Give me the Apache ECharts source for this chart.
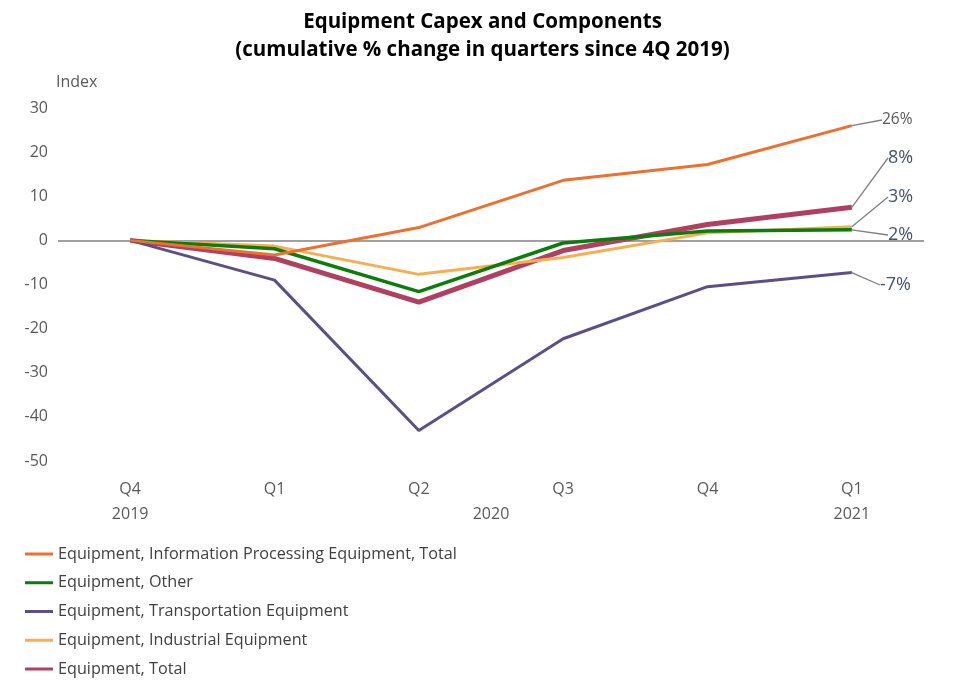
<!DOCTYPE html>
<html>
<head>
<meta charset="utf-8">
<script src="https://cdn.jsdelivr.net/npm/echarts@6/dist/echarts.min.js"></script>
<style>html,body{margin:0;padding:0;background:#fff;}#c{width:965px;height:684px;}</style>
</head>
<body>
<div id="c"></div>
<script>
const quarters = ['Q4', 'Q1', 'Q2', 'Q3', 'Q4', 'Q1'];
const yearLabels = ['2019', '2020', '2021'];
const yearPositions = [0, 2.5, 5];
const yTicks = [-50, -40, -30, -20, -10, 0, 10, 20, 30];

const seriesNames = [
  'Equipment, Information Processing Equipment, Total',
  'Equipment, Other',
  'Equipment, Transportation Equipment',
  'Equipment, Industrial Equipment',
  'Equipment, Total'
];
const infoProcessing = [0, -3.3, 2.9, 13.6, 17.2, 26.0];
const other          = [0, -1.9, -11.6, -0.6, 2.1, 2.4];
const transportation = [0, -9.0, -43.1, -22.3, -10.5, -7.3];
const industrial     = [0, -1.3, -7.7, -3.9, 1.7, 3.1];
const total          = [0, -4.1, -14.0, -2.3, 3.6, 7.5];
const endLabels = ['26%', '2%', '-7%', '3%', '8%'];

const colors = ['#EC7030', '#0A7D0A', '#5C4F85', '#F7AE50', '#B13F61'];
const widths = [3, 3.5, 3, 3, 5];
const labelPos = [
  {x: 876, y: 120, size: 15.5, color: '#595959'},
  {x: 882, y: 235, size: 18, color: '#44546A'},
  {x: 874, y: 285, size: 18, color: '#44546A'},
  {x: 882, y: 197, size: 18, color: '#44546A'},
  {x: 882, y: 158, size: 18, color: '#44546A'}
];
const values = [infoProcessing, other, transportation, industrial, total];

const FONT = '"Open Sans", "Noto Sans", sans-serif';

const series = values.map((vals, i) => ({
  name: seriesNames[i],
  type: 'line',
  z: 10 - i,
  showSymbol: true,
  symbol: 'circle',
  symbolSize: 0.01,
  itemStyle: {color: colors[i]},
  lineStyle: {color: colors[i], width: widths[i]},
  color: colors[i],
  data: vals.map((v, j) => j === vals.length - 1 ? {
    value: v,
    label: {
      show: true,
      formatter: endLabels[i],
      fontFamily: FONT,
      fontSize: labelPos[i].size,
      color: labelPos[i].color,
      padding: [0, 0, 0, 6]
    },
    labelLine: {show: true, lineStyle: {color: '#7F7F7F', width: 1.3}}
  } : v),
  label: {show: false},
  labelLayout: function (p) {
    return {x: labelPos[i].x, y: labelPos[i].y, align: 'left', verticalAlign: 'middle'};
  },
  markLine: i === 0 ? {
    silent: true,
    symbol: 'none',
    label: {show: false},
    lineStyle: {color: '#A0A0A0', width: 2, type: 'solid'},
    data: [{yAxis: 0}],
    z: 1
  } : undefined
}));

const chart = echarts.init(document.getElementById('c'), null, {renderer: 'canvas'});
chart.setOption({
  animation: false,
  backgroundColor: '#ffffff',
  title: {
    text: 'Equipment Capex and Components\n(cumulative % change in quarters since 4Q 2019)',
    left: 'center',
    top: 3,
    textStyle: {fontFamily: FONT, fontSize: 20.5, fontWeight: 'bold', color: '#000', lineHeight: 28}
  },
  grid: {left: 58, right: 41, top: 108, bottom: 223, containLabel: false},
  legend: {
    orient: 'vertical',
    left: 20,
    top: 541,
    itemGap: 12.75,
    itemWidth: 28,
    itemHeight: 3,
    icon: 'rect',
    data: seriesNames,
    textStyle: {fontFamily: FONT, fontSize: 16.2, color: '#404040'}
  },
  xAxis: [{
    type: 'category',
    data: quarters,
    boundaryGap: true,
    axisLine: {show: false},
    axisTick: {show: false},
    axisLabel: {fontFamily: FONT, fontSize: 16, color: '#595959', margin: 20}
  }, {
    type: 'value',
    position: 'bottom',
    min: -0.5,
    max: 5.5,
    axisLine: {show: false},
    axisTick: {show: false},
    splitLine: {show: false},
    axisLabel: {
      fontFamily: FONT, fontSize: 16, color: '#595959', margin: 45,
      customValues: yearPositions,
      formatter: function (v) {
        const k = yearPositions.indexOf(v);
        return k >= 0 ? yearLabels[k] : '';
      }
    }
  }],
  yAxis: {
    type: 'value',
    min: yTicks[0],
    max: yTicks[yTicks.length - 1],
    interval: 10,
    name: 'Index',
    nameLocation: 'end',
    nameGap: 18,
    nameTextStyle: {fontFamily: FONT, fontSize: 16, color: '#595959', align: 'left', padding: [0, 0, 0, -2]},
    axisLine: {show: false, onZero: false},
    axisTick: {show: false},
    splitLine: {show: false},
    axisLabel: {fontFamily: FONT, fontSize: 16, color: '#595959', margin: 10}
  },
  series: series
});
</script>
</body>
</html>
